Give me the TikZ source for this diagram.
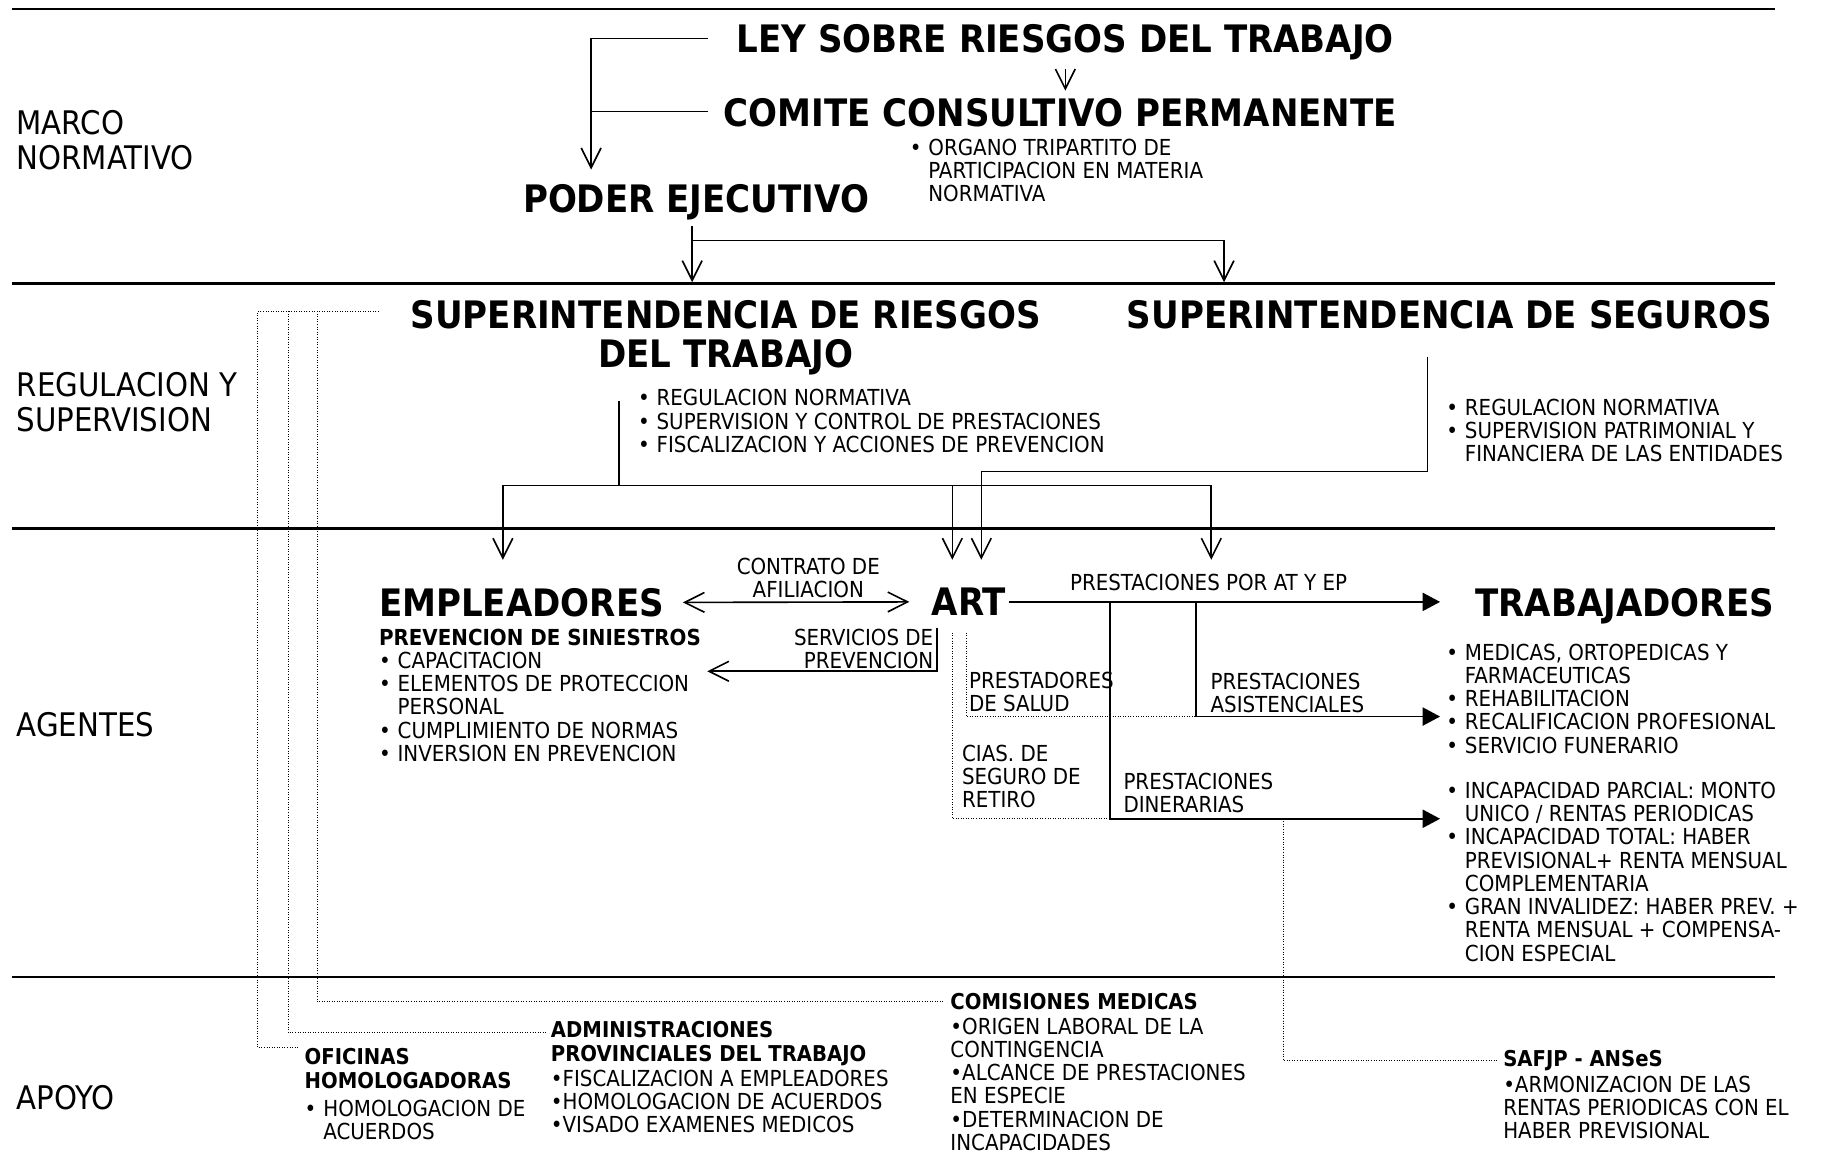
\documentclass[tikz,border=0pt]{standalone}
\usepackage{fontspec}
\setmainfont{DejaVu Sans Condensed}
\usetikzlibrary{arrows.meta}

\newcommand{\bl}{\makebox[8pt][l]{•}}
\newcommand{\hg}{\hspace*{8pt}}

\tikzset{
  every node/.style={inner sep=0pt,anchor=north west,align=left},
  seclbl/.style={font=\fontsize{14}{15}\selectfont},
  bigttl/.style={font=\fontsize{16.3}{17}\selectfont\bfseries},
  subttl/.style={font=\fontsize{9.4}{10.3}\selectfont\bfseries},
  txt/.style={font=\fontsize{9.5}{10}\selectfont},
  rule/.style={line width=1pt},
  conn/.style={line width=0.7pt},
  vee/.tip={Straight Barb[length=8.5pt,width=8.5pt]},
  open/.style={conn,-vee},
  both/.style={conn,vee-vee},
  full/.style={conn,-{Triangle[length=7.5pt,width=7.8pt]}},
  dots/.style={line width=0.4pt,dash pattern=on 0.4pt off 0.7pt},
}

\begin{document}
\begin{tikzpicture}[x=0.5pt,y=-0.5pt]
\useasboundingbox (0,0) rectangle (1568,1010);
\foreach \y in {8,244,455,841}
  \draw[rule] (10,\y) -- (1528,\y);

% bands
\node[seclbl] (marco) at (14,95) {MARCO\\NORMATIVO};
\node[seclbl] (regsup) at (14,320) {REGULACION Y\\SUPERVISION};
\node[seclbl] (agentes) at (14,613) {AGENTES};
\node[seclbl] (apoyo) at (14,934) {APOYO};

% marco normativo
\node[bigttl] (ley) at (634,21) {LEY SOBRE RIESGOS DEL TRABAJO};
\node[bigttl] (comite) at (623,84) {COMITE CONSULTIVO PERMANENTE};
\node[txt] (organo) at (783,119) {\bl ORGANO TRIPARTITO DE\\\hg PARTICIPACION EN MATERIA\\\hg NORMATIVA};
\node[bigttl] (poder) at (450,158) {PODER EJECUTIVO};

% regulacion y supervision
\node[bigttl,anchor=north,align=center] (srt) at (625,258) {SUPERINTENDENCIA DE RIESGOS\\DEL TRABAJO};
\node[bigttl] (ssn) at (970,258) {SUPERINTENDENCIA DE SEGUROS};
\node[txt] (srtfun) at (549,335) {\bl REGULACION NORMATIVA\\\bl SUPERVISION Y CONTROL DE PRESTACIONES\\\bl FISCALIZACION Y ACCIONES DE PREVENCION};
\node[txt] (ssnfun) at (1245,343) {\bl REGULACION NORMATIVA\\\bl SUPERVISION PATRIMONIAL Y\\\hg FINANCIERA DE LAS ENTIDADES};

% agentes
\node[bigttl] (emp) at (326,506) {EMPLEADORES};
\node[bigttl] (art) at (802,506) {ART};
\node[bigttl] (trab) at (1270,506) {TRABAJADORES};
\node[txt,anchor=north,align=center] (contrato) at (696,480) {CONTRATO DE\\AFILIACION};
\node[txt] (prevsin) at (326,541) {\textbf{PREVENCION DE SINIESTROS}\\\bl CAPACITACION\\\bl ELEMENTOS DE PROTECCION\\\hg PERSONAL\\\bl CUMPLIMIENTO DE NORMAS\\\bl INVERSION EN PREVENCION};
\node[txt,anchor=north east,align=right] (servprev) at (804,541) {SERVICIOS DE\\PREVENCION};
\node[txt] (prestsal) at (834,578) {PRESTADORES\\DE SALUD};
\node[txt] (cias) at (828,641) {CIAS. DE\\SEGURO DE\\RETIRO};
\node[txt] (atep) at (921,494) {PRESTACIONES POR AT Y EP};
\node[txt] (asist) at (1042,579) {PRESTACIONES\\ASISTENCIALES};
\node[txt] (diner) at (967,665) {PRESTACIONES\\DINERARIAS};
\node[txt] (especie) at (1245,554) {\bl MEDICAS, ORTOPEDICAS Y\\\hg FARMACEUTICAS\\\bl REHABILITACION\\\bl RECALIFICACION PROFESIONAL\\\bl SERVICIO FUNERARIO};
\node[txt] (dinero) at (1245,673) {\bl INCAPACIDAD PARCIAL: MONTO\\\hg UNICO / RENTAS PERIODICAS\\\bl INCAPACIDAD TOTAL: HABER\\\hg PREVISIONAL+ RENTA MENSUAL\\\hg COMPLEMENTARIA\\\bl GRAN INVALIDEZ: HABER PREV. +\\\hg RENTA MENSUAL + COMPENSA-\\\hg CION ESPECIAL};

% apoyo
\node[subttl] (ofic) at (262,902) {OFICINAS\\HOMOLOGADORAS};
\node[txt] (oficfun) at (262,947) {\bl HOMOLOGACION DE\\\hg ACUERDOS};
\node[subttl] (admin) at (474,879) {ADMINISTRACIONES\\PROVINCIALES DEL TRABAJO};
\node[txt] (adminfun) at (474,921) {•FISCALIZACION A EMPLEADORES\\•HOMOLOGACION DE ACUERDOS\\•VISADO EXAMENES MEDICOS};
\node[subttl] (comis) at (818,855) {COMISIONES MEDICAS};
\node[txt] (comisfun) at (818,876) {•ORIGEN LABORAL DE LA\\CONTINGENCIA\\•ALCANCE DE PRESTACIONES\\EN ESPECIE\\•DETERMINACION DE\\INCAPACIDADES};
\node[subttl] (safjp) at (1294,904) {SAFJP - ANSeS};
\node[txt] (safjpfun) at (1294,926) {•ARMONIZACION DE LAS\\RENTAS PERIODICAS CON EL\\HABER PREVISIONAL};

% bend points
\coordinate (kley) at (610,33);
\coordinate (kcomi) at (610,96);
\coordinate (kpe) at (509,146);
\coordinate (pe) at (596,195);
\coordinate (pebr) at (596,207);
\coordinate (pesrt) at (596,243);
\coordinate (pessn) at (1054,243);
\coordinate (srtbus) at (533,418);
\coordinate (toemp) at (433,482);
\coordinate (toart) at (820,482);
\coordinate (totrab) at (1043,482);
\coordinate (ssndn) at (1229,307);
\coordinate (ssnbus) at (1229,406);
\coordinate (toart2) at (845,482);
\coordinate (toemp2) at (609,578);
\coordinate (ttrab) at (1240,518);
\coordinate (kdin) at (956,705);
\coordinate (kasi) at (1030,617);
\coordinate (tdin) at (1240,705);
\coordinate (tasi) at (1240,617);
\coordinate (ciasdot) at (820,545);
\coordinate (saldot) at (832,545);
\coordinate (kret) at (1105,705);
\coordinate (kofi) at (222,268);
\coordinate (kadm) at (248,268);
\coordinate (kcms) at (273,268);

% marco normativo
\draw[open] (kley) -| (kpe);
\draw[conn] (kcomi) -- (kcomi -| kpe);
\draw[open] ([yshift=-3.5pt]ley.south) -- ([yshift=3pt]comite.north -| ley.south);
\draw[open] (pe) -- (pesrt);
\draw[open] (pebr) -| (pessn);

% regulacion
\draw[conn] ([xshift=-8pt,yshift=-5pt]srtfun.north west) -- (srtbus);
\draw[open] (srtbus) -| (toemp);
\draw[open] (srtbus) -| (totrab);
\draw[open] (toart |- srtbus) -- (toart);
\draw[open] (ssndn) -- (ssnbus) -| (toart2);

% agentes
\draw[both] ([xshift=8pt]emp.east) -- ([xshift=-9.5pt]art.west);
\draw[open] ([xshift=1.5pt]servprev.north east) |- (toemp2);
\draw[full] ([xshift=1pt]art.east) -- (ttrab |- art.east);
\draw[full] (kdin |- art.east) -- (kdin) -- (tdin);
\draw[full] (kasi |- art.east) -- (kasi) -- (tasi);
\draw[dots] (ciasdot) |- (kdin);
\draw[dots] (saldot) |- (kasi);
\draw[dots] (kret) |- ([xshift=-2pt]safjp.west);

% apoyo
\draw[dots] ([xshift=-13.5pt,yshift=-5pt]srt.north west) -- (kofi) |- ([xshift=-2pt]ofic.north west);
\draw[dots] (kadm) |- ([xshift=-2pt,yshift=-5pt]admin.north west);
\draw[dots] (kcms) |- ([xshift=-3pt]comis.west);
\end{tikzpicture}
\end{document}
